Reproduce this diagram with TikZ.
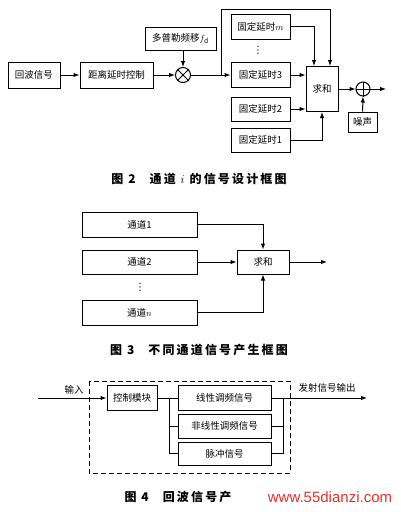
\documentclass[tikz,border=0pt]{standalone}
\usepackage{fontspec}
\setmainfont{Noto Sans CJK SC}
\newfontfamily\capfont{Noto Sans CJK SC}[LetterSpace=18]
\newfontfamily\wmfont{Liberation Sans}
\newfontfamily\symfont{DejaVu Sans}
\usetikzlibrary{arrows.meta}
\definecolor{wmred}{RGB}{225,50,50}
\begin{document}
\begin{tikzpicture}[x=1pt,y=-1pt,
  every node/.style={font=\fontsize{9.5}{10}\selectfont},
  blk/.style={draw,line width=1pt,inner sep=0pt},
  ln/.style={line width=1pt},
  arr/.style={line width=1pt,-{Latex[length=6pt,width=4.5pt]}},
  vdt/.style={font=\symfont\fontsize{10}{10}\selectfont,inner sep=0pt},
  capt/.style={font=\capfont\bfseries\fontsize{12}{13}\selectfont,inner sep=0pt}]
\useasboundingbox (0,0) rectangle (400,512);
% ---------- Fig 2 ----------
\node[blk,minimum width=52pt,minimum height=26pt] (echo) at (34,75) {回波信号};
\node[blk,minimum width=73pt,minimum height=26pt] (range) at (116.5,75) {距离延时控制};
\node[draw,circle,line width=1pt,minimum size=15pt,inner sep=0pt] (mult) at (183,75) {};
\draw[ln] (mult.north west) -- (mult.south east) (mult.north east) -- (mult.south west);
\node[blk,minimum width=71pt,minimum height=23pt] (dop) at (180.5,38.5) {多普勒频移$f_{\mathrm{d}}$};
\node[blk,minimum width=59pt,minimum height=25pt] (fm) at (260.5,26.5) {固定延时$m$};
\node[vdt] (vd1) at (258,50) {⋮};
\node[blk,minimum width=59pt,minimum height=25pt] (f3) at (260.5,75) {固定延时3};
\node[blk,minimum width=59pt,minimum height=24pt] (f2) at (260.5,109) {固定延时2};
\node[blk,minimum width=59pt,minimum height=24pt] (f1) at (260.5,140) {固定延时1};
\node[blk,minimum width=32pt,minimum height=45pt] (sum) at (322,89) {求和};
\node[draw,circle,line width=1pt,minimum size=14pt,inner sep=0pt] (plus) at (363,89) {};
\draw[ln] (plus.north) -- (plus.south) (plus.west) -- (plus.east);
\node[blk,minimum width=29pt,minimum height=20pt] (noise) at (362.5,122) {噪声};
\coordinate (j) at (221,75);
\coordinate (out2) at (386,89);
\draw[arr] (echo) -- (range);
\draw[arr] (range) -- (mult);
\draw[arr] (dop.south -| mult.north) -- (mult.north);
\draw[arr] (mult) -- (f3);
\draw[arr] (j) -- (221,9) -- (330,9) -- (330,0 |- sum.north);
\draw[arr] (fm.east) -- (314,26.5) -- (314,0 |- sum.north);
\draw[arr] (f3.east) -- (f3.east -| sum.west);
\draw[arr] (f2.east) -- (f2.east -| sum.west);
\draw[arr] (f1.east) -| (sum.south);
\draw[arr] (sum) -- (plus);
\draw[arr] (plus) -- (out2);
\draw[arr] (noise) -- (plus);
\node[capt] (cap2) at (199,179) {图 2\hspace{14pt}通道 $i$ 的信号设计框图};
% ---------- Fig 3 ----------
\node[blk,minimum width=115pt,minimum height=25pt] (c1) at (139.5,224.5) {通道1};
\node[blk,minimum width=115pt,minimum height=24pt] (c2) at (139.5,262) {通道2};
\node[vdt] (vd2) at (140,287) {⋮};
\node[blk,minimum width=115pt,minimum height=25pt] (cn) at (139.5,312.5) {通道$n$};
\node[blk,minimum width=52pt,minimum height=24pt] (sum3) at (263,262) {求和};
\coordinate (out3) at (327,262);
\draw[arr] (c1.east) -| (sum3.north);
\draw[arr] (c2) -- (sum3);
\draw[arr] (cn.east) -| (sum3.south);
\draw[arr] (sum3) -- (out3);
\node[capt] (cap3) at (199,350) {图 3\hspace{14pt}不同通道信号产生框图};
% ---------- Fig 4 ----------
\draw[line width=1pt,dash pattern=on 5pt off 3pt] (89,381) rectangle (290,473);
\node[blk,minimum width=50pt,minimum height=25pt] (ctrl) at (132,398) {控制模块};
\node[blk,minimum width=93pt,minimum height=25pt] (lin) at (224.5,398) {线性调频信号};
\node[blk,minimum width=93pt,minimum height=24pt] (nonlin) at (224.5,426) {非线性调频信号};
\node[blk,minimum width=93pt,minimum height=23pt] (pulse) at (224.5,453.5) {脉冲信号};
\coordinate (in4) at (38,398);
\coordinate (out4) at (367,398);
\coordinate (jl) at (169,398);
\coordinate (jr) at (283,398);
\node[inner sep=0pt] (inlab) at (74,390) {输入};
\node[inner sep=0pt] (outlab) at (327,388) {发射信号输出};
\draw[arr] (in4) -- (ctrl);
\draw[ln] (ctrl) -- (lin);
\draw[ln] (jl) |- (pulse.west);
\draw[ln] (jl |- nonlin.west) -- (nonlin.west);
\draw[ln] (jr) |- (pulse.east);
\draw[ln] (nonlin.east) -- (jr |- nonlin.east);
\draw[arr] (lin.east) -- (out4);
\node[capt] (cap4) at (178,497) {图 4\hspace{14pt}回波信号产};
\node[font=\wmfont\fontsize{15}{15}\selectfont,text=wmred,inner sep=0pt] (wm) at (330,497) {www.55dianzi.com};
\end{tikzpicture}
\end{document}
